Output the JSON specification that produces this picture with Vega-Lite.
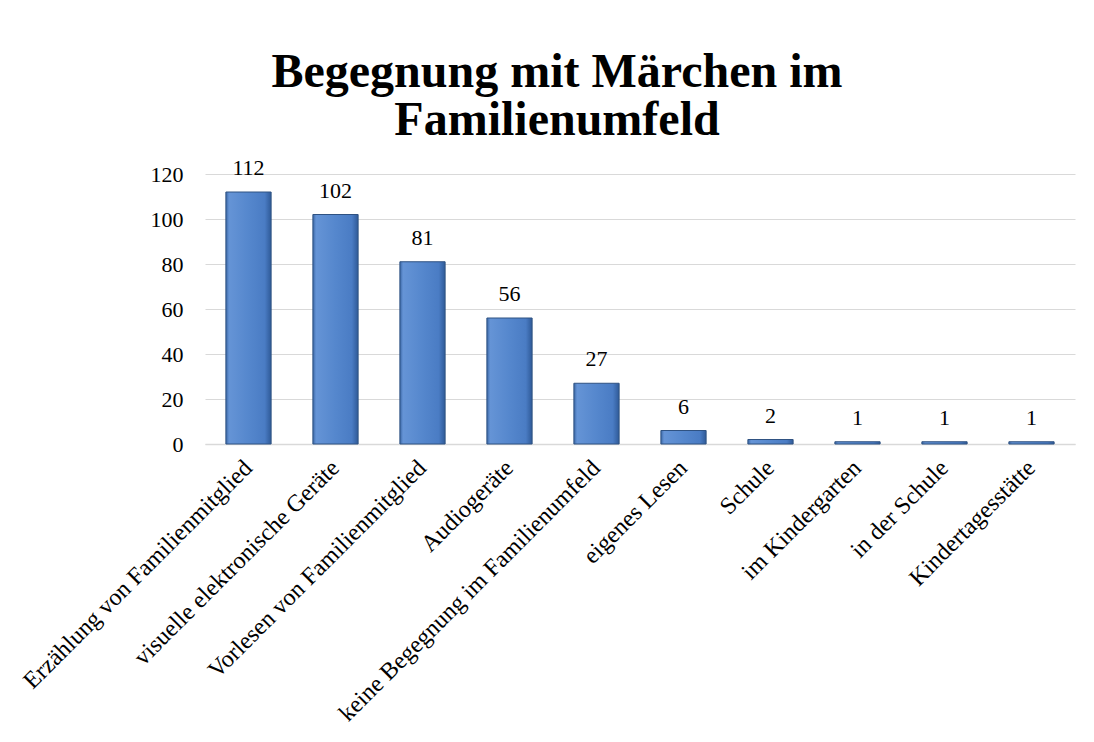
{
  "$schema": "https://vega.github.io/schema/vega-lite/v6.json",
  "width": 870,
  "height": 270,
  "autosize": {"type": "none"},
  "padding": {"left": 205, "top": 174, "right": 19, "bottom": 298},
  "background": "white",
  "title": {
    "text": ["Begegnung mit Märchen im", "Familienumfeld"],
    "font": "Liberation Serif",
    "fontSize": 48,
    "fontWeight": "bold",
    "color": "#000000",
    "anchor": "middle",
    "frame": "group",
    "dx": -83,
    "lineHeight": 48,
    "offset": 12
  },
  "data": {
    "values": [
      {"kategorie": "Erzählung von Familienmitglied", "anzahl": 112},
      {"kategorie": "visuelle elektronische Geräte", "anzahl": 102},
      {"kategorie": "Vorlesen von Familienmitglied", "anzahl": 81},
      {"kategorie": "Audiogeräte", "anzahl": 56},
      {"kategorie": "keine Begegnung im Familienumfeld", "anzahl": 27},
      {"kategorie": "eigenes Lesen", "anzahl": 6},
      {"kategorie": "Schule", "anzahl": 2},
      {"kategorie": "im Kindergarten", "anzahl": 1},
      {"kategorie": "in der Schule", "anzahl": 1},
      {"kategorie": "Kindertagesstätte", "anzahl": 1}
    ]
  },
  "encoding": {
    "x": {
      "field": "kategorie",
      "type": "nominal",
      "sort": null,
      "title": null,
      "scale": {"paddingInner": 0.48, "paddingOuter": 0.24},
      "axis": {
        "labelAngle": -45,
        "labelAlign": "right",
        "labelBaseline": "middle",
        "labelFont": "Liberation Serif",
        "labelFontSize": 24,
        "labelColor": "#000000",
        "labelPadding": 20,
        "ticks": false,
        "domain": true,
        "domainColor": "#d9d9d9",
        "domainWidth": 1.5,
        "grid": false,
        "labelLimit": 0
      }
    },
    "y": {
      "field": "anzahl",
      "type": "quantitative",
      "title": null,
      "scale": {"domain": [0, 120], "nice": false},
      "axis": {
        "values": [0, 20, 40, 60, 80, 100, 120],
        "labelFont": "Liberation Serif",
        "labelFontSize": 22,
        "labelColor": "#000000",
        "labelPadding": 22,
        "ticks": false,
        "domain": false,
        "grid": true,
        "gridColor": "#d9d9d9",
        "gridWidth": 1
      }
    }
  },
  "layer": [
    {
      "mark": {
        "type": "bar",
        "stroke": "#2f5282",
        "strokeWidth": 1,
        "color": {
          "gradient": "linear",
          "x1": 0, "y1": 0, "x2": 1, "y2": 0,
          "stops": [
            {"offset": 0, "color": "#3a66a5"},
            {"offset": 0.07, "color": "#6594d6"},
            {"offset": 0.5, "color": "#5587cd"},
            {"offset": 0.86, "color": "#4a7cc4"},
            {"offset": 1, "color": "#2f5a98"}
          ]
        }
      }
    },
    {
      "mark": {
        "type": "text",
        "font": "Liberation Serif",
        "fontSize": 22,
        "color": "#000000",
        "baseline": "alphabetic",
        "dy": -17
      },
      "encoding": {"text": {"field": "anzahl", "type": "quantitative"}}
    }
  ],
  "config": {"view": {"stroke": null}}
}
